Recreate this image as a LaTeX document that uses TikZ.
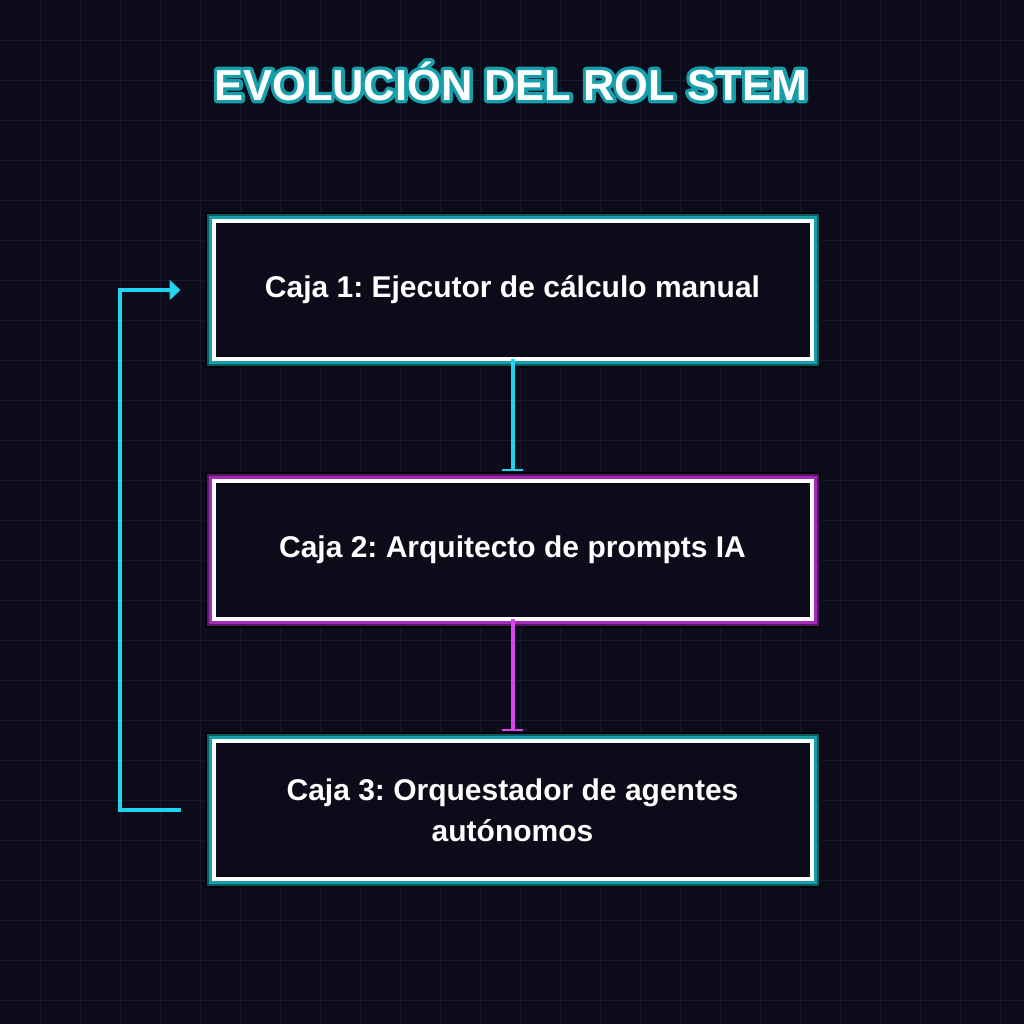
\documentclass[tikz,border=0pt]{standalone}
\usepackage{fontspec}
\setmainfont{Liberation Sans}
\usetikzlibrary{arrows.meta, positioning}
\frenchspacing
\definecolor{bgcol}{RGB}{11,11,26}
\definecolor{gridcol}{RGB}{24,24,46}
\definecolor{cyanline}{RGB}{34,211,238}
\definecolor{magline}{RGB}{217,70,239}
\definecolor{tealglow}{RGB}{22,158,170}
\definecolor{tealdark}{RGB}{10,90,98}
\definecolor{purpglow}{RGB}{165,42,185}
\definecolor{purpdark}{RGB}{88,22,104}
\definecolor{outerglow}{RGB}{3,3,8}
% outline only text (stroke render mode)
\newcommand\strokedtext[2]{\special{pdf:literal direct 1 Tr #1 w 1 j}#2\special{pdf:literal direct 0 Tr}}
\tikzset{
  rolebox/.style={rectangle, minimum width=299pt, minimum height=69pt, outer sep=0pt,
    align=center, fill=bgcol, draw=white, line width=2pt, text=white,
    font=\bfseries\fontsize{15}{20.5}\selectfont,
    preaction={draw=outerglow, line width=9pt},
    preaction={draw=#1dark, line width=7pt},
    preaction={draw=#1glow, line width=5pt}},
  flow/.style={-{Bar[width=10.5pt, line width=1pt]}, line width=2pt, draw=#1, shorten >=5pt},
  backloop/.style={-{Triangle[length=5.5pt, width=10pt]}, line width=2pt, draw=cyanline,
    shorten <=16.5pt, shorten >=16.5pt},
  gridline/.style={draw=gridcol, line width=0.5pt},
  heading/.style={font=\bfseries\fontsize{21.7}{26}\selectfont, text=white, inner sep=0pt},
}
\begin{document}
\begin{tikzpicture}[x=0.5pt, y=-0.5pt, node distance=61pt]
  \useasboundingbox (0,0) rectangle (1024,1024);
  \fill[bgcol] (0,0) rectangle (1024,1024);
  \foreach \g in {40,80,...,1000} {
    \draw[gridline] (\g,0) -- (\g,1024);
    \draw[gridline] (0,\g) -- (1024,\g);
  }

  \node[heading, anchor=base, text=tealglow] (titleglow) at (511,100) {\strokedtext{3.4}{EVOLUCIÓN DEL ROL STEM}};
  \node[heading, anchor=base] (title) at (511,100) {EVOLUCIÓN DEL ROL STEM};

  \node[rolebox=teal] (caja1) at (512.5,290) {Caja 1: Ejecutor de cálculo manual};
  \node[rolebox=purp, below=of caja1] (caja2) {Caja 2: Arquitecto de prompts IA};
  \node[rolebox=teal, below=of caja2] (caja3) {Caja 3: Orquestador de agentes\\autónomos};

  \draw[flow=cyanline] (caja1) -- (caja2);
  \draw[flow=magline] (caja2) -- (caja3);
  \draw[backloop] (caja3.west) -- ++(-47pt,0) |- (caja1.west);
\end{tikzpicture}
\end{document}
